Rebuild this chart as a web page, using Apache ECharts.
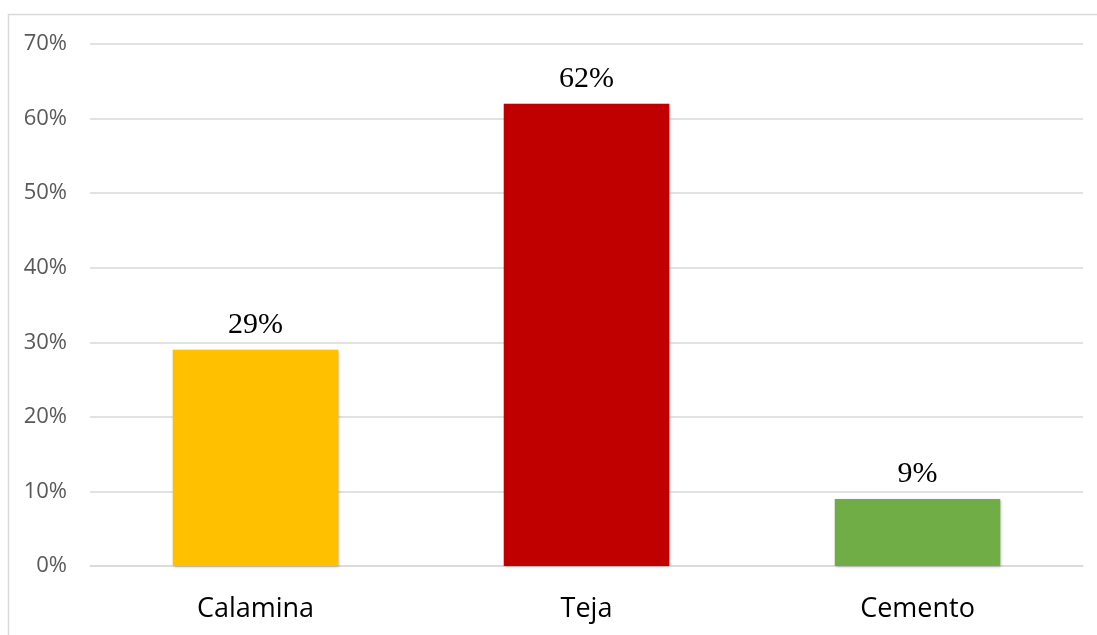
<!DOCTYPE html>
<html><head><meta charset="utf-8">
<script src="https://cdn.jsdelivr.net/npm/echarts@6/dist/echarts.min.js"></script>
<style>html,body{margin:0;padding:0;background:#fff}#c{width:1097px;height:635px}</style>
</head><body><div id="c"></div>
<script>
const categories = ['Calamina', 'Teja', 'Cemento'];
const values = [29, 62, 9];
const barColors = ['#FFC000', '#C00000', '#70AD47'];
const yTicks = [0, 10, 20, 30, 40, 50, 60, 70];

const chart = echarts.init(document.getElementById('c'), null, {renderer: 'canvas'});
chart.setOption({
  animation: false,
  backgroundColor: '#fff',
  graphic: [{
    type: 'rect', shape: {x: 8.5, y: 14.5, width: 1200, height: 700},
    style: {fill: 'none', stroke: '#d9d9d9', lineWidth: 1.5}, silent: true, z: -1
  }],
  grid: {left: 90, right: 14, top: 44, bottom: 69, containLabel: false},
  xAxis: {
    type: 'category', data: categories,
    axisLine: {show: true, lineStyle: {color: '#d9d9d9', width: 1.5}},
    axisTick: {show: false},
    axisLabel: {color: '#000', fontSize: 27, fontFamily: 'Open Sans', margin: 30}
  },
  yAxis: {
    type: 'value', min: yTicks[0], max: yTicks[yTicks.length - 1], interval: 10,
    axisLine: {show: false}, axisTick: {show: false},
    splitLine: {lineStyle: {color: '#d9d9d9', width: 1.5}},
    axisLabel: {color: '#595959', fontSize: 22, fontFamily: 'Open Sans', margin: 23, formatter: v => v + '%'}
  },
  series: [{
    type: 'bar', barWidth: '50%',
    data: values.map((v, i) => ({value: v, itemStyle: {color: barColors[i]}})),
    itemStyle: {shadowBlur: 3, shadowOffsetX: 1, shadowOffsetY: 1, shadowColor: 'rgba(0,0,0,0.35)'},
    label: {show: true, position: 'top', distance: 10, color: '#000', fontSize: 30, fontFamily: 'Liberation Serif', formatter: p => p.value + '%'}
  }]
});
</script></body></html>
